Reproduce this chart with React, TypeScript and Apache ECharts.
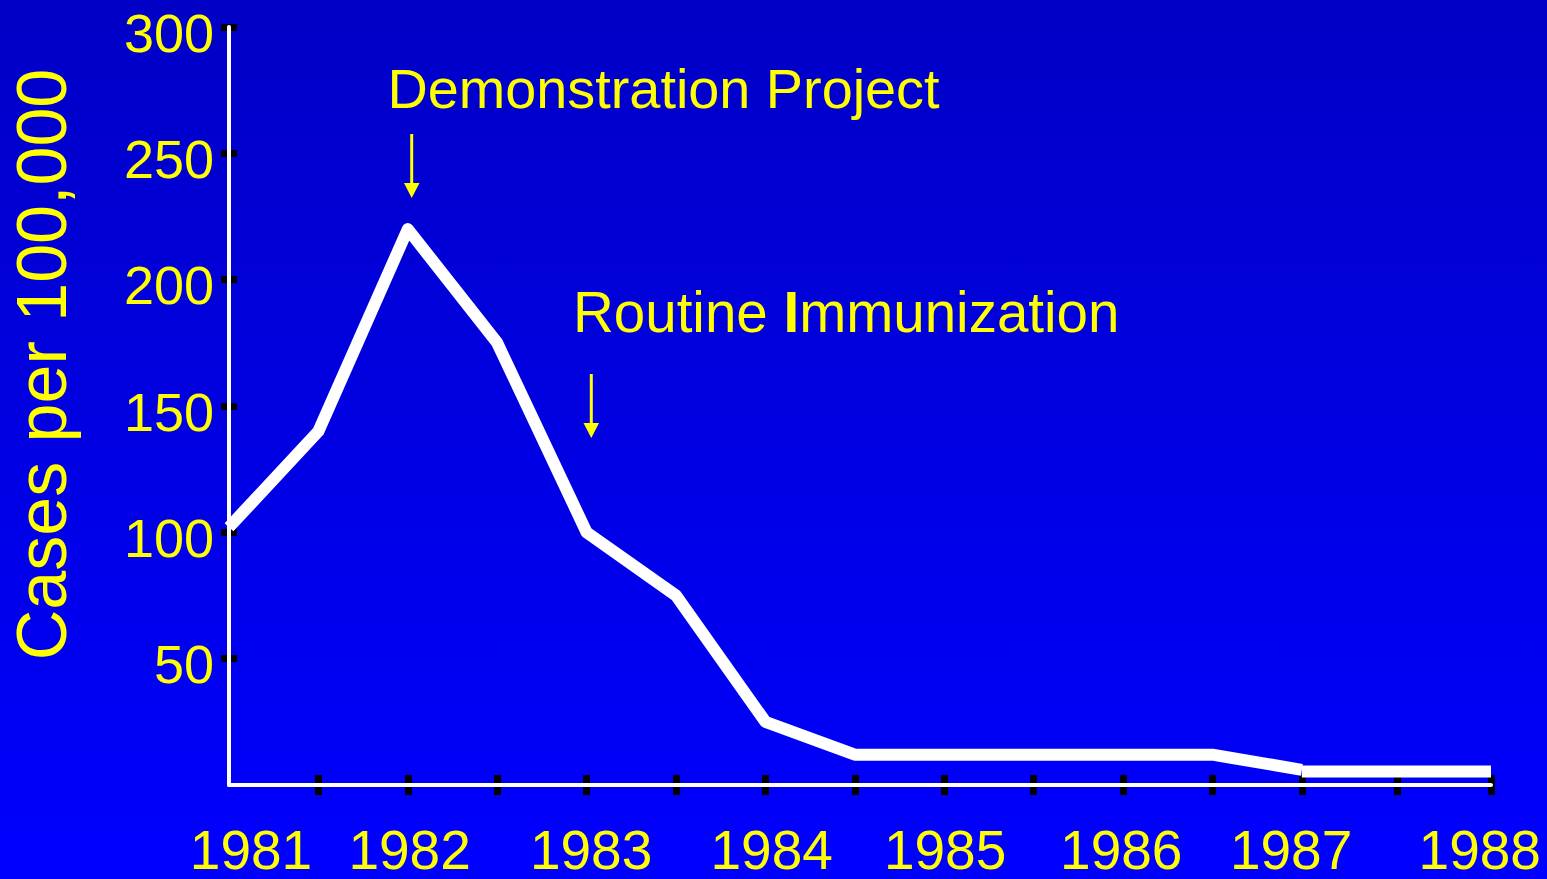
import React, { useEffect, useRef } from "react";
import * as echarts from "echarts";

// Half-year periods from the start of 1981 and cases per 100,000
const periods = [0, 1, 2, 3, 4, 5, 6, 7, 8, 9, 10, 11, 12];
const cases = [102, 140, 220, 175, 100, 75, 25, 12, 12, 12, 12, 12, 6];
// final segment (drawn as a separate stroke in the original)
const tailPeriods = [12, 14.116];
const tailCases = [5.3, 5.3];

const xMax = 14.116;
const xTickPositions = [1, 2, 3, 4, 5, 6, 7, 8, 9, 10, 11, 12, 13.065, 14.116];
const yearLabels = ["1981", "1982", "1983", "1984", "1985", "1986", "1987", "1988"];
const yearPositions = [0.246, 2.02, 4.05, 6.07, 8.01, 9.98, 11.88, 13.99];
const yTicks = [50, 100, 150, 200, 250, 300];

const FONT = '"Liberation Sans", Arial, sans-serif';
const YELLOW = "#ffff00";
// labels in the original sit slightly below their tick marks
const Y_LABEL_DROP = 2.2;

export default function App() {
  const ref = useRef<HTMLDivElement>(null);

  useEffect(() => {
    if (!ref.current) return;
    const chart = echarts.init(ref.current, undefined, { renderer: "svg" });

    const baseX = {
      type: "value" as const,
      min: 0,
      max: xMax,
      position: "bottom" as const,
      splitLine: { show: false },
      axisLine: { show: false, onZero: false },
    };
    const baseY = {
      type: "value" as const,
      min: 0,
      max: 300,
      interval: 50,
      position: "left" as const,
      splitLine: { show: false },
      axisLine: { show: false, onZero: false },
    };

    const option: any = {
      animation: false,
      backgroundColor: "transparent",
      grid: {
        left: 229,
        top: 27,
        width: 1262,
        height: 758,
        containLabel: false,
        outerBoundsMode: "none",
      },
      xAxis: [
        {
          ...baseX,
          axisTick: {
            show: true,
            inside: false,
            length: 10,
            customValues: xTickPositions,
            lineStyle: { color: "#000", width: 7 },
          },
          axisLabel: {
            show: true,
            customValues: yearPositions,
            margin: 45,
            color: YELLOW,
            fontSize: 55,
            lineHeight: 40,
            fontFamily: FONT,
            formatter: (v: number) => {
              const i = yearPositions.findIndex((p) => Math.abs(p - v) < 1e-6);
              return i >= 0 ? yearLabels[i] : "";
            },
          },
        },
        {
          ...baseX,
          axisTick: {
            show: true,
            inside: true,
            length: 10,
            customValues: xTickPositions,
            lineStyle: { color: "#000", width: 7 },
          },
          axisLabel: { show: false },
        },
        {
          ...baseX,
          z: 1,
          axisLine: { show: true, onZero: false, lineStyle: { color: "#fff", width: 4 } },
          axisTick: { show: false },
          axisLabel: { show: false },
        },
      ],
      yAxis: [
        {
          ...baseY,
          axisTick: {
            show: true,
            inside: false,
            length: 8,
            customValues: yTicks,
            lineStyle: { color: "#000", width: 7 },
          },
          axisLabel: {
            show: true,
            customValues: yTicks.map((v) => v - Y_LABEL_DROP),
            formatter: (v: number) => String(Math.round(v / 50) * 50),
            margin: 15,
            color: YELLOW,
            fontSize: 54,
            fontFamily: FONT,
          },
        },
        {
          ...baseY,
          axisTick: {
            show: true,
            inside: true,
            length: 8,
            customValues: yTicks,
            lineStyle: { color: "#000", width: 7 },
          },
          axisLabel: { show: false },
        },
        {
          ...baseY,
          z: 1,
          axisLine: { show: true, onZero: false, lineStyle: { color: "#fff", width: 4 } },
          axisTick: { show: false },
          axisLabel: { show: false },
        },
      ],
      series: [
        {
          type: "line",
          xAxisIndex: 0,
          yAxisIndex: 0,
          data: periods.map((p, i) => [p, cases[i]]),
          showSymbol: false,
          symbol: "none",
          lineStyle: { color: "#fff", width: 12, cap: "butt", join: "round" },
          z: 3,
        },
        {
          type: "line",
          xAxisIndex: 0,
          yAxisIndex: 0,
          data: tailPeriods.map((p, i) => [p, tailCases[i]]),
          showSymbol: false,
          symbol: "none",
          lineStyle: { color: "#fff", width: 12, cap: "butt" },
          z: 3,
        },
      ],
      graphic: [
        {
          type: "text",
          x: 41.5,
          y: 364.5,
          rotation: Math.PI / 2,
          style: {
            text: "Cases per 100,000",
            x: 0,
            y: 0,
            fill: YELLOW,
            font: `70px ${FONT}`,
            align: "center",
            verticalAlign: "middle",
          },
        },
        {
          type: "text",
          x: 387.5,
          y: 88,
          style: {
            text: "Demonstration Project",
            fill: YELLOW,
            font: `55.8px ${FONT}`,
            align: "left",
            verticalAlign: "middle",
          },
        },
        {
          type: "text",
          x: 573,
          y: 312,
          style: {
            text: "{a|Routine }{b|I}{a|mmunization}",
            fill: YELLOW,
            align: "left",
            verticalAlign: "middle",
            rich: {
              a: { fontSize: 56.5, fontFamily: FONT, color: YELLOW },
              b: { fontSize: 56.5, fontFamily: FONT, color: YELLOW, fontWeight: "bold" },
            },
          },
        },
        {
          type: "line",
          shape: { x1: 411.7, y1: 134, x2: 411.7, y2: 184 },
          style: { stroke: YELLOW, lineWidth: 3 },
        },
        {
          type: "polygon",
          shape: { points: [[404, 183], [419.5, 183], [411.7, 198]] },
          style: { fill: YELLOW },
        },
        {
          type: "line",
          shape: { x1: 591.3, y1: 374, x2: 591.3, y2: 424 },
          style: { stroke: YELLOW, lineWidth: 3 },
        },
        {
          type: "polygon",
          shape: { points: [[583.5, 423], [599, 423], [591.3, 438]] },
          style: { fill: YELLOW },
        },
      ],
    };

    chart.setOption(option);
    return () => chart.dispose();
  }, []);

  return (
    <div
      style={{
        position: "fixed",
        left: 0,
        top: 0,
        width: 1547,
        height: 879,
        background: "linear-gradient(to bottom, #0000c6 0%, #0000ff 100%)",
      }}
    >
      <div ref={ref} style={{ width: 1547, height: 879 }} />
    </div>
  );
}
